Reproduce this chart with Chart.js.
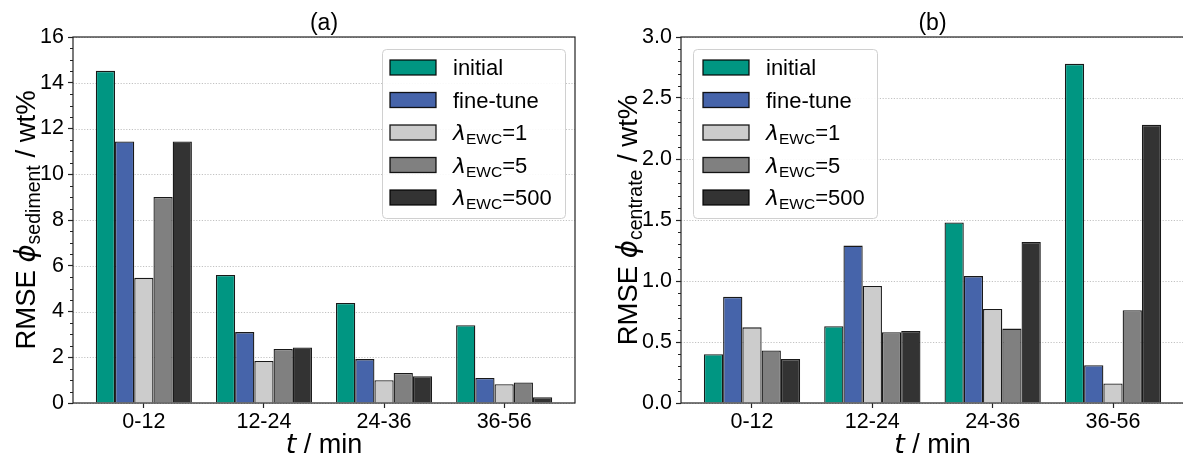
<!DOCTYPE html>
<html>
<head>
<meta charset="utf-8">
<script src="https://cdn.jsdelivr.net/npm/chart.js@4.4.1/dist/chart.umd.min.js"></script>
<style>
  html, body { margin: 0; padding: 0; background: #fff; overflow: hidden; }
  body { width: 1183px; height: 458px; position: relative; }
  .box { position: absolute; top: 0; height: 458px; }
  #boxA { left: 0; width: 600px; }
  #boxB { left: 600px; width: 590px; }
</style>
</head>
<body>
<div class="box" id="boxA"><canvas id="cA"></canvas></div>
<div class="box" id="boxB"><canvas id="cB"></canvas></div>
<script>
// ---------- data ----------
const categories = ['0-12', '12-24', '24-36', '36-56'];
const seriesNames = ['initial', 'fine-tune', 'λEWC=1', 'λEWC=5', 'λEWC=500'];
const legendMain = ['initial', 'fine-tune', 'λ', 'λ', 'λ'];
const legendSub  = ['', '', 'EWC', 'EWC', 'EWC'];
const legendTail = ['', '', '=1', '=5', '=500'];
const colors = ['#009682', '#4664AA', '#CCCCCC', '#808080', '#333333'];

// (a) sediment RMSE / wt%
const sedInitial  = [14.52, 5.60, 4.37, 3.40];
const sedFineTune = [11.43, 3.10, 1.92, 1.09];
const sedEwc1     = [5.47, 1.84, 1.00, 0.82];
const sedEwc5     = [9.01, 2.36, 1.31, 0.90];
const sedEwc500   = [11.43, 2.43, 1.17, 0.25];

// (b) centrate RMSE / wt%
const cenInitial  = [0.40, 0.63, 1.48, 2.78];
const cenFineTune = [0.87, 1.29, 1.04, 0.31];
const cenEwc1     = [0.62, 0.96, 0.77, 0.16];
const cenEwc5     = [0.43, 0.58, 0.61, 0.76];
const cenEwc500   = [0.36, 0.59, 1.32, 2.28];

const yTicksA = [0, 2, 4, 6, 8, 10, 12, 14, 16];
const yTicksB = ['0.0', '0.5', '1.0', '1.5', '2.0', '2.5', '3.0'];

// ---------- helpers ----------
const SANS = '"Liberation Sans", Arial, Helvetica, sans-serif';
const DJV = '"DejaVu Sans", sans-serif';

function drawSegments(ctx, segs, x, y, align) {
  let total = 0;
  segs.forEach(s => { ctx.font = s.font; s.w = ctx.measureText(s.text).width; total += s.w; });
  let cx = align === 'center' ? x - total / 2 : x;
  ctx.textAlign = 'left';
  segs.forEach(s => {
    ctx.font = s.font;
    ctx.fillText(s.text, cx, y + (s.dy || 0));
    cx += s.w;
  });
}

function makeDatasets(arrs) {
  return arrs.map((vals, k) => ({
    label: seriesNames[k],
    data: vals.map((v, i) => ({ x: i, y: v })),
    backgroundColor: colors[k],
    borderColor: 'rgba(0,0,0,0.9)',
    borderWidth: 1.3,
    borderSkipped: 'start',
    categoryPercentage: 0.8,
    barPercentage: 1.0
  }));
}

function decorPlugin(cfg) {
  return {
    id: 'decor',
    beforeDatasetsDraw(chart) {
      const { ctx, chartArea: a, scales: { y } } = chart;
      ctx.save();
      ctx.strokeStyle = 'rgba(170,170,170,0.8)';
      ctx.lineWidth = 0.9;
      ctx.setLineDash([1.2, 1.6]);
      cfg.majors.forEach(v => {
        const py = Math.round(y.getPixelForValue(v)) + 0.5;
        ctx.beginPath(); ctx.moveTo(a.left, py); ctx.lineTo(a.right, py); ctx.stroke();
      });
      ctx.restore();
    },
    afterDatasetsDraw(chart) {
      const { ctx, chartArea: a, scales: { y } } = chart;
      ctx.save();
      // minor ticks
      ctx.strokeStyle = '#222';
      ctx.lineWidth = 1;
      for (let v = y.min; v <= y.max + 1e-9; v += cfg.minor) {
        const isMajor = cfg.majors.some(m => Math.abs(m - v) < 1e-6);
        if (isMajor) continue;
        const py = Math.round(y.getPixelForValue(v)) + 0.5;
        ctx.beginPath(); ctx.moveTo(a.left, py); ctx.lineTo(a.left - 3, py); ctx.stroke();
      }
      // spines
      ctx.strokeStyle = '#222';
      ctx.lineWidth = 1.2;
      ctx.strokeRect(a.left, a.top, a.right - a.left, a.bottom - a.top);

      // legend
      const L = cfg.legend;
      ctx.fillStyle = 'rgba(255,255,255,0.9)';
      ctx.strokeStyle = '#d0d0d0';
      ctx.lineWidth = 1;
      ctx.beginPath();
      ctx.roundRect(L.x + 0.5, L.y + 0.5, L.w, L.h, 4);
      ctx.fill(); ctx.stroke();
      chart.data.datasets.forEach((ds, k) => {
        const cy = L.y + L.row0 + k * L.step;
        ctx.fillStyle = ds.backgroundColor;
        ctx.fillRect(L.x + L.hx, cy - 7, 46, 15);
        ctx.strokeStyle = 'rgba(0,0,0,0.9)';
        ctx.lineWidth = 1.3;
        ctx.strokeRect(L.x + L.hx, cy - 7, 46, 15);
        ctx.fillStyle = '#000';
        ctx.textBaseline = 'alphabetic';
        const base = cy + 8;
        const segs = [];
        if (legendSub[k]) {
          segs.push({ text: legendMain[k], font: 'italic 22px ' + DJV });
          segs.push({ text: legendSub[k], font: '15.5px ' + SANS, dy: 4 });
          segs.push({ text: legendTail[k], font: '22px ' + SANS });
        } else {
          segs.push({ text: legendMain[k], font: '22px ' + SANS });
        }
        drawSegments(ctx, segs, L.x + L.tx, base, 'left');
      });

      // title
      ctx.fillStyle = '#000';
      ctx.textBaseline = 'alphabetic';
      ctx.font = '23px ' + SANS;
      ctx.textAlign = 'center';
      ctx.fillText(cfg.title, (a.left + a.right) / 2, 30);

      // x label
      drawSegments(ctx, [
        { text: 't', font: 'italic 27px ' + DJV },
        { text: ' / min', font: '27px ' + SANS }
      ], (a.left + a.right) / 2, 453, 'center');

      // y label (rotated, centred on the axes)
      ctx.save();
      ctx.translate(cfg.ylabelX, (a.top + a.bottom) / 2);
      ctx.rotate(-Math.PI / 2);
      drawSegments(ctx, [
        { text: 'RMSE ', font: '27.5px ' + SANS },
        { text: 'ϕ', font: 'italic 27.5px ' + DJV },
        { text: cfg.ysub, font: '19.5px ' + SANS, dy: 5 },
        { text: ' / wt%', font: '27.5px ' + SANS }
      ], 0, 0, 'center');
      ctx.restore();
      ctx.restore();
    }
  };
}

function makeChart(id, arrs, opts) {
  return new Chart(document.getElementById(id), {
    type: 'bar',
    data: { datasets: makeDatasets(arrs) },
    options: {
      responsive: true,
      maintainAspectRatio: false,
      animation: false,
      devicePixelRatio: 1,
      layout: { padding: { left: 0, right: opts.padRight, top: 37, bottom: 0 } },
      plugins: { legend: { display: false }, tooltip: { enabled: false }, title: { display: false } },
      scales: {
        x: {
          type: 'linear',
          min: -0.59, max: 3.59,
          offset: false,
          grid: { display: true, drawOnChartArea: false, drawTicks: true, tickLength: 5, color: 'rgba(0,0,0,0)', tickColor: '#222', tickWidth: 1.2, offset: false },
          border: { display: false },
          ticks: {
            autoSkip: false, maxRotation: 0, padding: 1,
            color: '#000', font: { family: SANS, size: 21.5 },
            callback: (v) => categories[v] !== undefined ? categories[v] : ''
          },
          afterBuildTicks: (s) => { s.ticks = categories.map((c, i) => ({ value: i })); },
          afterFit: (s) => { s.height = 55; }
        },
        y: {
          min: 0, max: opts.ymax,
          grid: { display: true, drawOnChartArea: false, drawTicks: true, tickLength: 5, color: 'rgba(0,0,0,0)', tickColor: '#222', tickWidth: 1.2 },
          border: { display: false },
          ticks: {
            stepSize: opts.step, padding: 4,
            color: '#000', font: { family: SANS, size: 21.5 },
            callback: opts.yfmt
          },
          afterFit: (s) => { s.width = opts.yWidth; }
        }
      }
    },
    plugins: [decorPlugin(opts.decor)]
  });
}

makeChart('cA', [sedInitial, sedFineTune, sedEwc1, sedEwc5, sedEwc500], {
  padRight: 25, ymax: 16, step: 2, yWidth: 73,
  yfmt: (v) => { const i = yTicksA.indexOf(v); return i >= 0 ? String(yTicksA[i]) : ''; },
  decor: {
    title: '(a)', majors: yTicksA, minor: 0.5, ylabelX: 35, ysub: 'sediment',
    legend: { x: 382, y: 49, w: 183, h: 169, hx: 8, tx: 71, row0: 18, step: 32.5 }
  }
});

makeChart('cB', [cenInitial, cenFineTune, cenEwc1, cenEwc5, cenEwc500], {
  padRight: 6, ymax: 3.0, step: 0.5, yWidth: 81,
  yfmt: (v) => { const i = yTicksB.map(Number).findIndex(t => Math.abs(t - v) < 1e-6); return i >= 0 ? yTicksB[i] : ''; },
  decor: {
    title: '(b)', majors: yTicksB.map(Number), minor: 0.1, ylabelX: 37, ysub: 'centrate',
    legend: { x: 93, y: 49, w: 184, h: 169, hx: 10, tx: 73, row0: 18, step: 32.5 }
  }
});
</script>
</body>
</html>
